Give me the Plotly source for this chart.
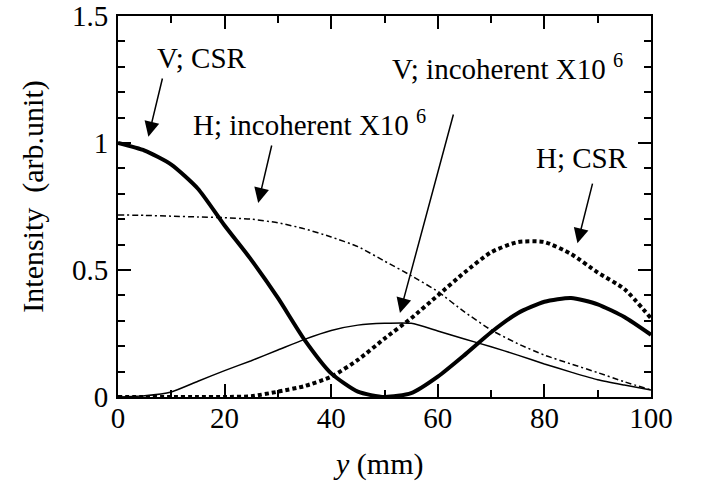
import plotly.graph_objects as go

# ---- data ----
y_mm = [0, 5, 10, 15, 20, 25, 30, 35, 40, 45, 50, 55, 60, 65, 70, 75, 80, 85, 90, 95, 100]

v_csr = [1.0, 0.97, 0.915, 0.82, 0.675, 0.54, 0.39, 0.225, 0.093, 0.021, 0.0, 0.015, 0.08,
         0.165, 0.255, 0.33, 0.375, 0.39, 0.365, 0.315, 0.245]

h_incoh = [0.717, 0.715, 0.712, 0.709, 0.706, 0.70, 0.686, 0.662, 0.63, 0.592, 0.535, 0.478,
           0.415, 0.335, 0.264, 0.21, 0.165, 0.13, 0.096, 0.06, 0.028]

v_incoh = [0.0, 0.005, 0.02, 0.062, 0.104, 0.143, 0.185, 0.227, 0.262, 0.283, 0.29, 0.29,
           0.26, 0.228, 0.198, 0.165, 0.13, 0.098, 0.068, 0.047, 0.028]

h_csr = [0.0, 0.0, 0.0, 0.0, 0.0, 0.003, 0.021, 0.043, 0.08, 0.146, 0.23, 0.31, 0.40,
         0.49, 0.57, 0.61, 0.61, 0.563, 0.49, 0.425, 0.31]

x_ticks = [0, 20, 40, 60, 80, 100]
y_ticks = [0, 0.5, 1, 1.5]

FONT = "Times New Roman"

fig = go.Figure()
fig.add_trace(go.Scatter(x=y_mm, y=h_incoh, mode="lines", name="H; incoherent",
                         line=dict(color="black", width=1.5, dash="6px,3px,2px,3px", shape="spline", smoothing=0.6)))
fig.add_trace(go.Scatter(x=y_mm, y=v_incoh, mode="lines", name="V; incoherent",
                         line=dict(color="black", width=1.5, shape="spline", smoothing=0.6)))
fig.add_trace(go.Scatter(x=y_mm, y=h_csr, mode="lines", name="H; CSR",
                         line=dict(color="black", width=4, dash="4px,3px", shape="spline", smoothing=0.6)))
fig.add_trace(go.Scatter(x=y_mm, y=v_csr, mode="lines", name="V; CSR",
                         line=dict(color="black", width=4, shape="spline", smoothing=0.6)))

axis_common = dict(
    showline=True, linewidth=2, linecolor="black", mirror="ticks",
    ticks="inside", ticklen=13, tickwidth=2, tickcolor="black",
    showgrid=False, zeroline=False, automargin=False,
    tickfont=dict(family=FONT, size=29, color="black"),
)

fig.update_xaxes(range=[0, 100], tickvals=x_ticks, ticklabelstandoff=-6,
                 minor=dict(ticks="inside", ticklen=7, tickwidth=2, dtick=10, tickcolor="black"),
                 **axis_common)
fig.update_yaxes(range=[0, 1.5], tickvals=y_ticks, ticklabelstandoff=2,
                 minor=dict(ticks="inside", ticklen=7, tickwidth=2, dtick=0.1, tickcolor="black"),
                 **axis_common)

ann_font = dict(family=FONT, size=29, color="black")
arrows = [
    # text, text x, text y, tail x, tail y, head x, head y
    ("V; CSR", 15.7, 1.335, 8.4, 1.26, 5.7, 1.025),
    ("H; incoherent X10 <sup>6</sup>", 36.0, 1.08, 28.9, 0.996, 26.3, 0.764),
    ("V; incoherent X10 <sup>6</sup>", 73.0, 1.30, 63.0, 1.118, 52.9, 0.331),
    ("H; CSR", 87.1, 0.94, 89.1, 0.846, 86.2, 0.605),
]
for text, tx, ty, ax_, ay_, hx, hy in arrows:
    fig.add_annotation(x=tx, y=ty, text=text, showarrow=False, font=ann_font,
                       xanchor="center", yanchor="middle")
    fig.add_annotation(x=hx, y=hy, ax=ax_, ay=ay_, axref="x", ayref="y", text="",
                       showarrow=True, arrowhead=2, arrowsize=2.0, arrowwidth=1.5,
                       arrowcolor="black")

title_font = dict(family=FONT, size=30, color="black")
fig.add_annotation(xref="paper", yref="paper", x=0.488, y=-0.176, text="<i>y</i> (mm)",
                   showarrow=False, font=title_font, xanchor="center", yanchor="middle")
fig.add_annotation(xref="paper", yref="paper", x=-0.160, y=0.525, text="Intensity  (arb.unit)",
                   showarrow=False, font=title_font, xanchor="center", yanchor="middle",
                   textangle=-90)

fig.update_layout(
    width=701, height=481,
    margin=dict(l=118, r=50, t=16, b=84, autoexpand=False),
    plot_bgcolor="white", paper_bgcolor="white",
    showlegend=False,
    font=dict(family=FONT, color="black"),
)

# remove the browser's default 8px body margin so the figure fills the window exactly
fig.write_html("out.html", config={"displayModeBar": False},
               post_script="document.body.style.margin='0';")
